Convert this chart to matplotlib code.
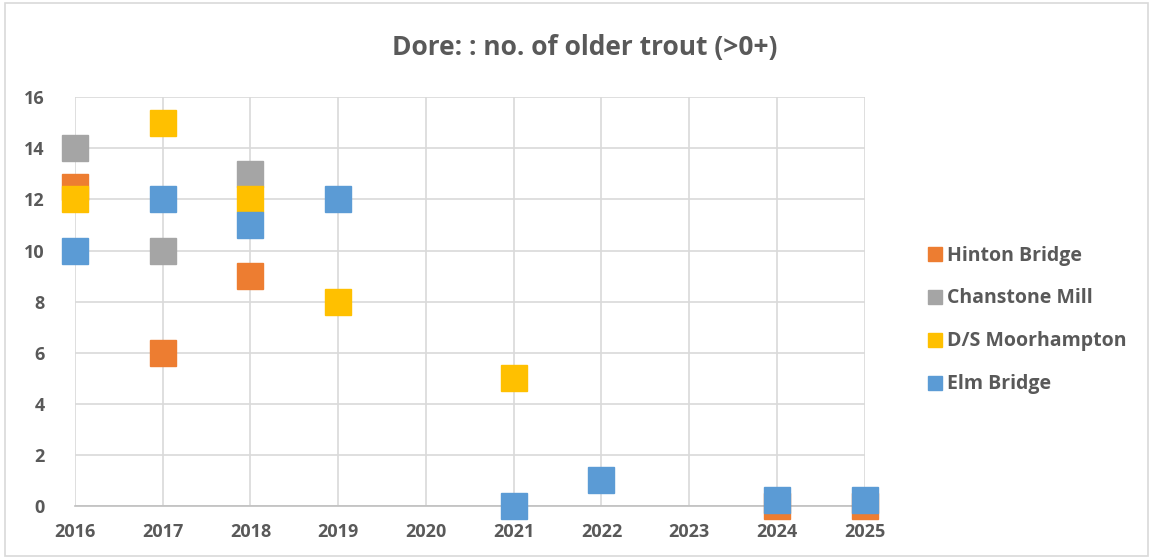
import matplotlib.pyplot as plt
from matplotlib.patches import Rectangle

# counts of older trout (>0+) per site and year
hinton_years = [2016, 2017, 2018, 2024, 2025]
hinton_counts = [12.5, 6, 9, 0, 0]
chanstone_years = [2016, 2017, 2018]
chanstone_counts = [14, 10, 13]
moorhampton_years = [2016, 2017, 2018, 2019, 2021]
moorhampton_counts = [12, 15, 12, 8, 5]
elm_years = [2016, 2017, 2018, 2019, 2021, 2022, 2024, 2025]
elm_counts = [10, 12, 11, 12, 0, 1, 0.25, 0.25]

year_ticks = list(range(2016, 2026))
count_ticks = list(range(0, 17, 2))

plt.rcParams['font.family'] = ['Open Sans', 'DejaVu Sans']
text_col = '#595959'

fig = plt.figure(figsize=(11.53, 5.59), dpi=100)
ax = fig.add_axes([0.065, 0.095, 0.685, 0.731])

series = [
    ('Hinton Bridge', hinton_years, hinton_counts, '#ED7D31'),
    ('Chanstone Mill', chanstone_years, chanstone_counts, '#A5A5A5'),
    ('D/S Moorhampton', moorhampton_years, moorhampton_counts, '#FFC000'),
    ('Elm Bridge', elm_years, elm_counts, '#5B9BD5'),
]
for name, xs, ys, col in series:
    ax.plot(xs, ys, linestyle='none', marker='s', markersize=19,
            color=col, label=name, clip_on=False, zorder=3)

ax.set_xlim(2016, 2025)
ax.set_ylim(0, 16)
ax.set_xticks(year_ticks)
ax.set_yticks(count_ticks)
ax.grid(True, color='#D9D9D9', linewidth=1.2)
ax.set_axisbelow(True)
for s in ['top', 'right', 'left']:
    ax.spines[s].set_visible(False)
ax.spines['bottom'].set_color('#BFBFBF')
ax.spines['bottom'].set_linewidth(1.2)
ax.tick_params(length=0, labelsize=13, colors=text_col, pad=12)
for lab in ax.get_xticklabels() + ax.get_yticklabels():
    lab.set_fontweight('bold')
ax.tick_params(axis='y', pad=22)

fig.text(0.507, 0.915, 'Dore: : no. of older trout (>0+)', ha='center', va='center',
         fontsize=19, color=text_col, fontweight='bold')

leg = ax.legend(loc='center left', bbox_to_anchor=(1.058, 0.455), frameon=False,
                fontsize=14, handlelength=0.7, handletextpad=0.25,
                labelspacing=1.18, markerscale=0.5)
for t in leg.get_texts():
    t.set_color(text_col)
    t.set_fontweight('bold')

fig.patches.append(Rectangle((0.004, 0.006), 0.992, 0.988, transform=fig.transFigure,
                             fill=False, edgecolor='#D9D9D9', linewidth=1.2))

fig.savefig('out.png', dpi=100)
